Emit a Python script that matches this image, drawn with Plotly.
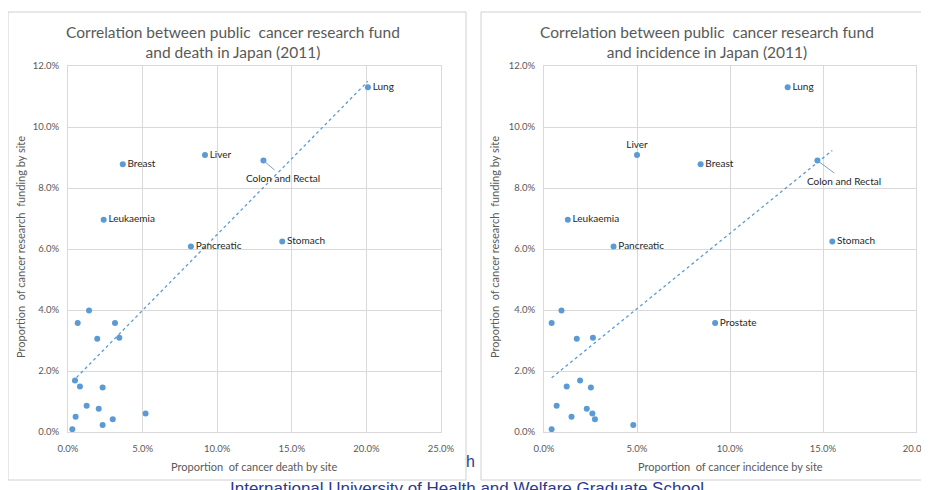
import numpy as np
import plotly.graph_objects as go

# ---------------- data (percent) ----------------
sites = ["Lung", "Liver", "Colon and Rectal", "Breast", "Leukaemia", "Stomach",
         "Pancreatic", "Prostate", "", "", "", "", "", "", "", "", "", "", "", "", "", ""]
funding = [11.3, 9.08, 8.9, 8.78, 6.96, 6.25, 6.08, 3.57, 3.98, 3.57, 3.06, 3.09,
           1.69, 1.49, 1.46, 0.86, 0.76, 0.61, 0.50, 0.42, 0.23, 0.09]
death = [20.1, 9.18, 13.1, 3.67, 2.39, 14.36, 8.24, 3.15, 1.41, 0.65, 1.96, 3.44,
         0.47, 0.80, 2.32, 1.25, 2.06, 5.2, 0.51, 3.0, 2.32, 0.29]
incidence = [13.1, 5.0, 14.7, 8.42, 1.28, 15.5, 3.74, 9.2, 0.94, 0.41, 1.76, 2.63,
             1.94, 1.22, 2.52, 0.68, 2.3, 2.6, 1.48, 2.74, 4.8, 0.41]

labels_death = ["Lung", "Liver", "Breast", "Leukaemia", "Stomach", "Pancreatic"]
labels_incidence = ["Lung", "Liver", "Breast", "Leukaemia", "Stomach", "Pancreatic", "Prostate"]

title_death = "Correlation between public  cancer research fund<br>and death in Japan (2011)"
title_incidence = "Correlation between public  cancer research fund<br>and incidence in Japan (2011)"
xtitle_death = "Proportion  of cancer death by site"
xtitle_incidence = "Proportion  of cancer incidence by site"
ytitle = "Proportion  of cancer research  funding by site"
footer = "International University of Health and Welfare Graduate School"

# ---------------- figure ----------------
W, H = 929, 490
OFF = 8  # page body margin offset
FONT = "Lato, Liberation Sans, sans-serif"
BLUE = "#5B9BD5"
GRID = "#D9D9D9"
TXT = "#595959"


def px(x):
    return (x - OFF) / W


def py(y):
    return 1 - (y - OFF) / H


fig = go.Figure()

# footer text behind charts
fig.add_annotation(xref="paper", yref="paper", x=px(467), y=py(477), yanchor="top",
                   xanchor="center", text=footer, showarrow=False,
                   font=dict(family="Liberation Sans, sans-serif", size=17, color="#2B3990"))
fig.add_annotation(xref="paper", yref="paper", x=px(470), y=py(461), xanchor="center",
                   yanchor="middle", text="h", showarrow=False,
                   font=dict(family="Liberation Sans, sans-serif", size=16, color="#2B3990"))

# chart boxes
for x0, x1 in [(8, 466), (481, 945)]:
    fig.add_shape(type="rect", xref="paper", yref="paper", x0=px(x0), x1=px(x1),
                  y0=py(480), y1=py(12), line=dict(color="#D0D0D0", width=1),
                  fillcolor="white", layer="below")

panels = [
    dict(xs=death, labels=labels_death, xa="x", ya="y", dom=(68, 441), xmax=25,
         title=title_death, tcx=233, xt=xtitle_death, ytx=20),
    dict(xs=incidence, labels=labels_incidence, xa="x2", ya="y2", dom=(544, 916), xmax=20,
         title=title_incidence, tcx=707, xt=xtitle_incidence, ytx=494),
]

for i, p in enumerate(panels):
    xs = np.array(p["xs"])
    ys = np.array(funding)
    texts = [s if s in p["labels"] else "" for s in sites]
    tpos = ["top center" if (s == "Liver" and i == 1) else "middle right" for s in sites]
    # trendline (least squares)
    k, b = np.polyfit(xs, ys, 1)
    lx = np.array([xs.min(), xs.max()])
    fig.add_trace(go.Scatter(x=lx, y=k * lx + b, mode="lines", xaxis=p["xa"], yaxis=p["ya"],
                             line=dict(color=BLUE, width=1.3, dash="dot"), hoverinfo="skip",
                             showlegend=False))
    fig.add_trace(go.Scatter(x=xs, y=ys, mode="markers+text", text=texts, textposition=tpos,
                             xaxis=p["xa"], yaxis=p["ya"],
                             marker=dict(color=BLUE, size=6),
                             textfont=dict(family=FONT, size=10, color="#262626"),
                             showlegend=False))
    ci = sites.index("Colon and Rectal")
    fig.add_annotation(xref=p["xa"], yref=p["ya"], x=xs[ci], y=ys[ci],
                       text="Colon and Rectal", showarrow=True, arrowhead=0,
                       arrowcolor="#7F9FBF", arrowwidth=1,
                       ax=20 if i == 0 else 27, ay=17 if i == 0 else 20,
                       font=dict(family=FONT, size=10, color="#262626"))
    # titles
    fig.add_annotation(xref="paper", yref="paper", x=px(p["tcx"]), y=py(42), text=p["title"],
                       xanchor="center", yanchor="middle",
                       showarrow=False, font=dict(family=FONT, size=15.5, color=TXT))
    fig.add_annotation(xref="paper", yref="paper", x=px((p["dom"][0] + p["dom"][1]) / 2), y=py(466),
                       xanchor="center", yanchor="middle",
                       text=p["xt"], showarrow=False, font=dict(family=FONT, size=11, color=TXT))
    fig.add_annotation(xref="paper", yref="paper", x=px(p["ytx"]), y=py(247), text=ytitle,
                       xanchor="center", yanchor="middle",
                       textangle=-90, showarrow=False, font=dict(family=FONT, size=11, color=TXT))

    axis_common = dict(showgrid=True, gridcolor=GRID, gridwidth=1, zeroline=False,
                       showline=True, linecolor=GRID, mirror=True, ticks="",
                       tickfont=dict(family=FONT, size=9.5, color=TXT), ticksuffix="%",
                       tickformat=".1f", automargin=False)
    sfx = "" if i == 0 else "2"
    fig.update_layout(**{
        "xaxis" + sfx: dict(axis_common, domain=[px(p["dom"][0]), px(p["dom"][1])],
                            range=[0, p["xmax"]], dtick=5, ticklabelstandoff=8,
                            anchor="y" + sfx),
        "yaxis" + sfx: dict(axis_common, domain=[py(432), py(66)], range=[0, 12], dtick=2,
                            ticklabelstandoff=6, anchor="x" + sfx),
    })

fig.update_layout(width=W, height=H, margin=dict(l=0, r=0, t=0, b=0, autoexpand=False),
                  paper_bgcolor="white", plot_bgcolor="rgba(0,0,0,0)",
                  font=dict(family=FONT), showlegend=False)

fig.write_html("out.html")
